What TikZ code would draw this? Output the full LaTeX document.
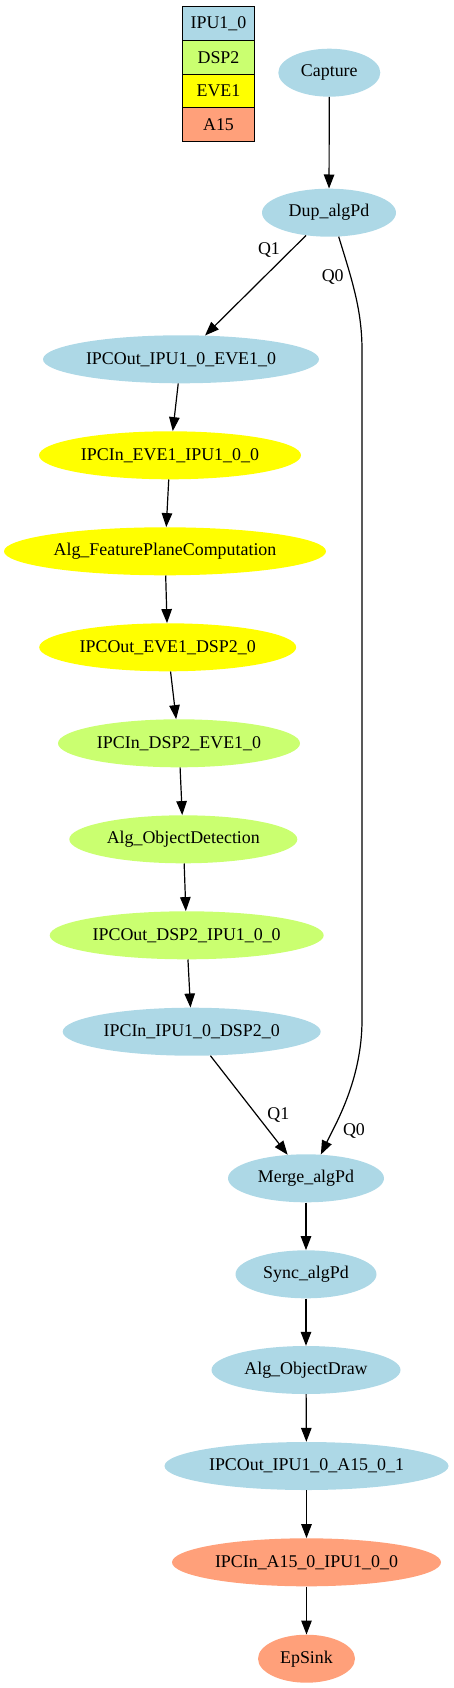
\documentclass[tikz,border=0pt]{standalone}
\usepackage{fontspec}
\setmainfont{Liberation Serif}
\usetikzlibrary{arrows.meta,shapes.geometric}
\definecolor{ipu}{RGB}{173,216,230}
\definecolor{dsp}{RGB}{202,255,112}
\definecolor{eve}{RGB}{255,255,0}
\definecolor{afx}{RGB}{255,160,122}
\begin{document}
\begin{tikzpicture}[x=1pt,y=-1pt,
  nd/.style={ellipse, inner sep=0pt, minimum height=48pt, font=\fontsize{17.9}{20}\selectfont},
  leg/.style={draw, line width=1pt, inner sep=0pt, minimum width=72.4pt, minimum height=33.7pt, font=\fontsize{17.9}{20}\selectfont},
  lbl/.style={inner sep=0pt, font=\fontsize{17.9}{20}\selectfont},
  arr/.style={line width=1.2pt, -{Triangle[length=14pt,width=10.5pt]}}
]
\useasboundingbox (0,0) rectangle (453,1688);
% legend
\node[leg,fill=ipu] (l1) at (218.5,23.6) {IPU1\_0};
\node[leg,fill=dsp] (l2) at (218.5,57.3) {DSP2};
\node[leg,fill=eve] (l3) at (218.5,91.0) {EVE1};
\node[leg,fill=afx] (l4) at (218.5,124.7) {A15};
% nodes
\node[nd,fill=ipu,minimum width=102pt] (capture) at (329.3,72.7) {Capture};
\node[nd,fill=ipu,minimum width=134pt] (dup) at (329,212.7) {Dup\_algPd};
\node[nd,fill=ipu,minimum width=276pt] (o1) at (181,359.3) {IPCOut\_IPU1\_0\_EVE1\_0};
\node[nd,fill=eve,minimum width=262pt] (i1) at (170,455.3) {IPCIn\_EVE1\_IPU1\_0\_0};
\node[nd,fill=eve,minimum width=322pt] (fpc) at (165,551.3) {Alg\_FeaturePlaneComputation};
\node[nd,fill=eve,minimum width=257pt] (o2) at (167.7,647.3) {IPCOut\_EVE1\_DSP2\_0};
\node[nd,fill=dsp,minimum width=242pt] (i2) at (179,743.3) {IPCIn\_DSP2\_EVE1\_0};
\node[nd,fill=dsp,minimum width=228pt] (od) at (183.3,839.3) {Alg\_ObjectDetection};
\node[nd,fill=dsp,minimum width=274pt] (o3) at (186.7,935.3) {IPCOut\_DSP2\_IPU1\_0\_0};
\node[nd,fill=ipu,minimum width=258pt] (i3) at (191.7,1031.7) {IPCIn\_IPU1\_0\_DSP2\_0};
\node[nd,fill=ipu,minimum width=156pt] (merge) at (306,1178.3) {Merge\_algPd};
\node[nd,fill=ipu,minimum width=141pt] (sync) at (306,1274.3) {Sync\_algPd};
\node[nd,fill=ipu,minimum width=189pt] (draw) at (306,1370) {Alg\_ObjectDraw};
\node[nd,fill=ipu,minimum width=284pt] (o4) at (306.5,1466) {IPCOut\_IPU1\_0\_A15\_0\_1};
\node[nd,fill=afx,minimum width=269pt] (i4) at (306.5,1562.3) {IPCIn\_A15\_0\_IPU1\_0\_0};
\node[nd,fill=afx,minimum width=97pt] (sink) at (306.5,1658.7) {EpSink};
% edges
\draw[arr] (capture) -- (dup);
\draw[arr] (dup) -- (o1);
\node[lbl] (q1a) at (269,250) {Q1};
\draw[arr] (dup.-68) .. controls (352,280) and (362,310) .. (362,350) -- (362,1020)
  .. controls (362,1080) and (335,1125) .. (merge.58);
\node[lbl] (q0a) at (332.7,277.3) {Q0};
\draw[arr] (o1) -- (i1);
\draw[arr] (i1) -- (fpc);
\draw[arr] (fpc) -- (o2);
\draw[arr] (o2) -- (i2);
\draw[arr] (i2) -- (od);
\draw[arr] (od) -- (o3);
\draw[arr] (o3) -- (i3);
\draw[arr] (i3) -- (merge);
\node[lbl] (q1b) at (278.3,1115) {Q1};
\node[lbl] (q0b) at (354,1130.7) {Q0};
\draw[arr] (merge) -- (sync);
\draw[arr] (sync) -- (draw);
\draw[arr] (draw) -- (o4);
\draw[arr] (o4) -- (i4);
\draw[arr] (i4) -- (sink);
\end{tikzpicture}
\end{document}
